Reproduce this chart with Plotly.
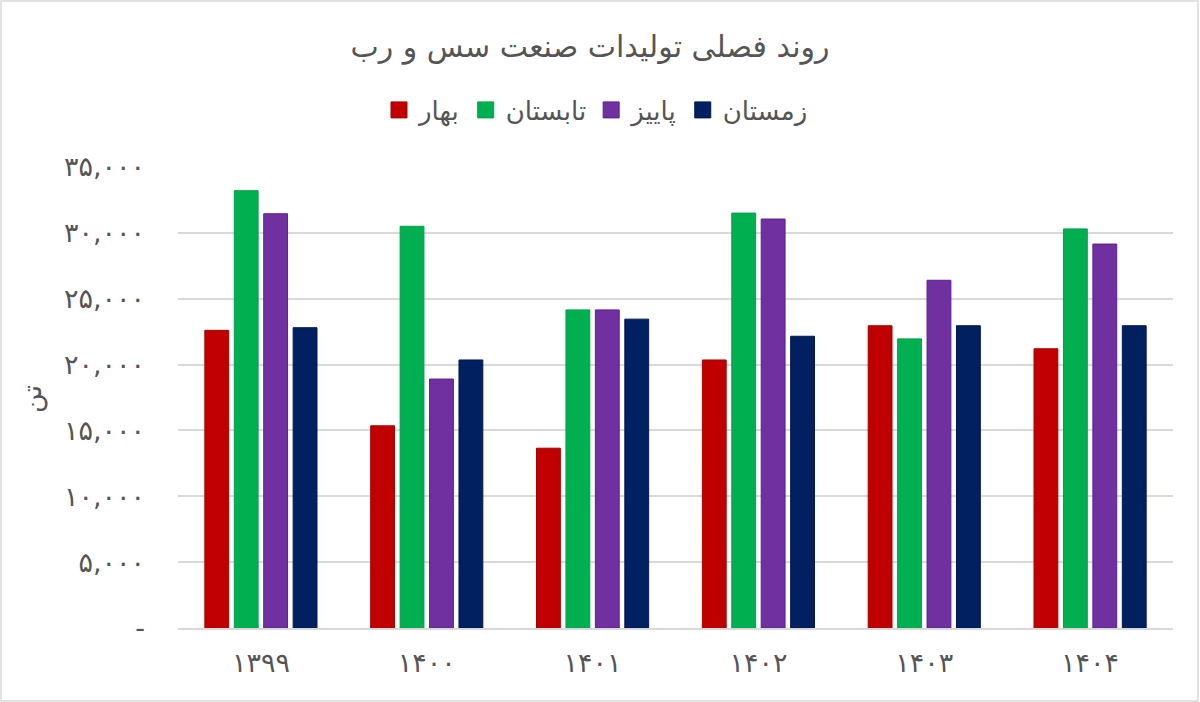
import plotly.graph_objects as go

years = ["۱۳۹۹", "۱۴۰۰", "۱۴۰۱", "۱۴۰۲", "۱۴۰۳", "۱۴۰۴"]
series_names = ["بهار", "تابستان", "پاییز", "زمستان"]
spring = [22600, 15350, 13650, 20350, 22950, 21200]
summer = [33200, 30500, 24150, 31500, 21950, 30300]
autumn = [31450, 18900, 24150, 31050, 26400, 29150]
winter = [22800, 20350, 23450, 22150, 22950, 22950]
tick_vals = [0, 5000, 10000, 15000, 20000, 25000, 30000, 35000]
tick_text = ["-", "۵,۰۰۰", "۱۰,۰۰۰", "۱۵,۰۰۰", "۲۰,۰۰۰", "۲۵,۰۰۰", "۳۰,۰۰۰", "۳۵,۰۰۰"]
title_text = "روند فصلی تولیدات صنعت سس و رب"
y_title = "تن"

colors = ["#C00000", "#00B050", "#7030A0", "#002060"]
edges = ["#A80000", "#00A048", "#5A1F8F", "#001850"]
FONT = "DejaVu Sans"
GREY = "#595959"

fig = go.Figure()
for name, vals, c, e in zip(series_names, [spring, summer, autumn, winter], colors, edges):
    fig.add_trace(go.Bar(x=years, y=vals, name=name, legendgroup=name, showlegend=False,
                         marker=dict(color=c, line=dict(color=e, width=1))))
for name, c, e in zip(series_names, colors, edges):
    fig.add_trace(go.Scatter(x=[None], y=[None], mode="markers", name=name, legendgroup=name,
                             marker=dict(symbol="square", size=18, color=c,
                                         line=dict(color=e, width=1))))

W, H = 1200, 702
ml, mr, mt, mb = 178, 27, 167, 74
pw = W - ml - mr
ph = H - mt - mb

fig.update_layout(
    width=W, height=H,
    margin=dict(l=ml, r=mr, t=mt, b=mb),
    paper_bgcolor="white", plot_bgcolor="white",
    barmode="group", bargap=0.29, bargroupgap=0.19,
    font=dict(family=FONT, color=GREY),
    title=dict(text=title_text, x=590 / W, xref="container", xanchor="center",
               y=1 - 46 / H, yref="container", yanchor="middle",
               font=dict(size=30, color="#555555", family=FONT)),
    legend=dict(orientation="h", x=596 / W, xref="container", xanchor="center",
                y=1 - 110 / H, yref="container", yanchor="middle",
                font=dict(size=26, color="#555555", family=FONT),
                itemwidth=30, traceorder="normal", itemsizing="trace"),
    xaxis=dict(showgrid=False, showline=True, linecolor="#D9D9D9", linewidth=2,
               tickfont=dict(size=27, color="#555555", family=FONT), ticks="",
               ticklabelstandoff=10),
    yaxis=dict(range=[0, 35000], tickvals=tick_vals, ticktext=tick_text,
               showgrid=True, gridcolor="#D9D9D9", gridwidth=1.5,
               zeroline=False, showline=False, ticks="",
               tickfont=dict(size=27, color="#555555", family=FONT),
               ticklabelstandoff=32),
    annotations=[dict(text=y_title, textangle=-90, showarrow=False,
                      xref="paper", yref="paper",
                      x=(32 - ml) / pw, y=(628 - 399) / ph,
                      xanchor="center", yanchor="middle",
                      font=dict(size=27, color="#555555", family=FONT))],
    shapes=[dict(type="rect", xref="paper", yref="paper",
                 x0=(1 - ml) / pw, x1=(W - 2 - ml) / pw,
                 y0=-(mb - 1) / ph, y1=(ph + mt - 1) / ph,
                 line=dict(color="#D9D9D9", width=1.5), layer="below")],
)

fig.write_html("out.html")
